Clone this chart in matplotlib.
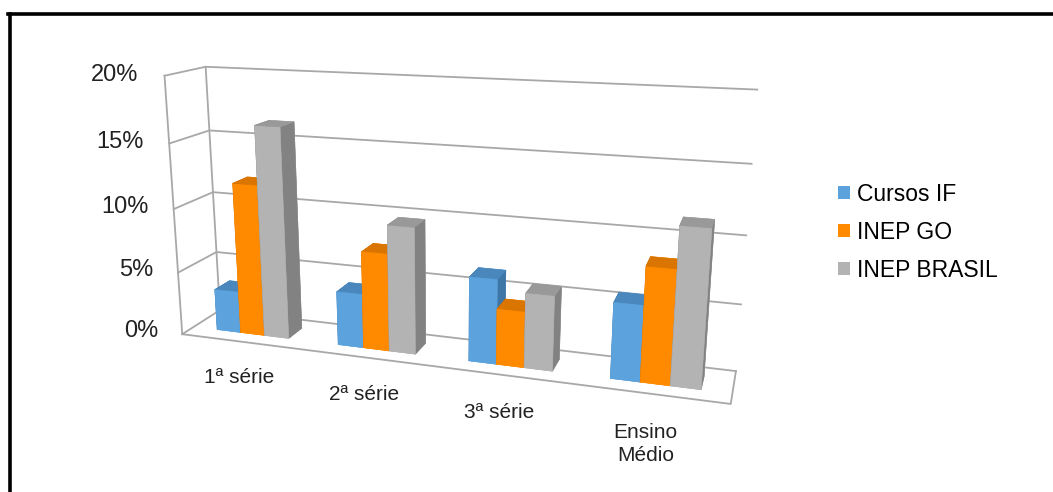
import numpy as np
import matplotlib
matplotlib.use('Agg')
import matplotlib.pyplot as plt
from matplotlib.patches import Patch
from matplotlib.lines import Line2D

# data (percent)
categories = ['1ª série', '2ª série', '3ª série', 'Ensino\nMédio']
series_names = ['Cursos IF', 'INEP GO', 'INEP BRASIL']
cursos_if = [3.3, 4.2, 6.4, 5.6]
inep_go = [11.9, 7.5, 4.2, 8.4]
inep_brasil = [16.4, 9.7, 5.6, 11.4]
z_ticks = [0, 5, 10, 15, 20]
z_tick_labels = ['0%', '5%', '10%', '15%', '20%']

plt.rcParams['font.family'] = ['Liberation Sans', 'DejaVu Sans']

# front, top, right side
face_colours = {
    'Cursos IF': ('#5CA3DE', '#4A87BC', '#3E76A6'),
    'INEP GO': ('#FF8A00', '#D97500', '#C66A00'),
    'INEP BRASIL': ('#B3B3B3', '#999999', '#828282'),
}
legend_colours = ['#5CA3DE', '#FF8A00', '#B3B3B3']

fig = plt.figure(figsize=(10.53, 4.92), dpi=100)
ax = fig.add_axes([0.028, 0.036, 0.78, 1.0], projection='3d', computed_zorder=False)
ax.set_proj_type('persp', focal_length=0.4)
ax.view_init(elev=15, azim=-72)
ax.set_box_aspect((10, 1.4, 4.85), zoom=1.27)

x0, x1 = -0.5, len(categories) - 0.5
y0, y1 = 0.0, 1.0
z_top = z_ticks[-1]
ax.set_xlim(x0, x1)
ax.set_ylim(y0, y1)
ax.set_zlim(0, z_top)
ax.set_xticks([])
ax.set_yticks([])
ax.set_zticks([])
ax.set_axis_off()
for axis in (ax.xaxis, ax.yaxis, ax.zaxis):
    axis.label.set_visible(False)
    axis.offsetText.set_visible(False)
    axis.set_visible(False)
for ttl in (ax.title, ax._left_title, ax._right_title):
    ttl.set_visible(False)

# walls: gridlines on back and left wall, floor outline
grid_kw = dict(color='#A8A8A8', lw=1.3, zorder=1, clip_on=False)
for t in z_ticks:
    ax.plot([x0, x0, x1], [y0, y1, y1], [t, t, t], **grid_kw)
ax.plot([x0, x0], [y0, y0], [0, z_top], **grid_kw)
ax.plot([x0, x0], [y1, y1], [0, z_top], **grid_kw)
ax.plot([x0, x1, x1], [y0, y0, y1], [0, 0, 0], **grid_kw)

# bars
bar_w = 0.2
bar_d = 0.4
xs = np.arange(len(categories))
for k, (name, vals) in enumerate(zip(series_names, [cursos_if, inep_go, inep_brasil])):
    front, top, side = face_colours[name]
    # bottom, top, front, back, left, right
    cols = [front, top, front, front, side, side] * len(xs)
    bars = ax.bar3d(xs - 1.5 * bar_w + k * bar_w, np.full(len(xs), 0.5 - bar_d / 2),
                    np.zeros(len(xs)), bar_w, bar_d, vals, color=cols, edgecolor=cols,
                    linewidth=0.4, shade=False, zorder=2 + k)
    bars.set_clip_on(False)

# tick labels
for t, lab in zip(z_ticks, z_tick_labels):
    ax.text(x0 - 0.21, y0, t, lab, ha='right', va='center', fontsize=17, color='#222222')
for i, cat in enumerate(categories):
    ax.text(i - 0.03, y0, -2.2, cat, ha='center', va='top', fontsize=15,
            color='#222222', multialignment='center', linespacing=1.25)

# legend
handles = [Patch(facecolor=c, edgecolor='none') for c in legend_colours]
fig.legend(handles, series_names, loc='center left', bbox_to_anchor=(0.796, 0.528),
           frameon=False, fontsize=16.5, handlelength=0.5, handleheight=0.5,
           handletextpad=0.3, labelspacing=0.66, borderpad=0, borderaxespad=0)

# frame (top and left edges only)
fig.add_artist(Line2D([8 / 1053, 1], [1 - 14 / 492] * 2, transform=fig.transFigure,
                      color='black', lw=2.6))
fig.add_artist(Line2D([9.5 / 1053] * 2, [0, 1 - 14 / 492], transform=fig.transFigure,
                      color='black', lw=2.6))

fig.savefig('out.png', dpi=100, facecolor='white')
